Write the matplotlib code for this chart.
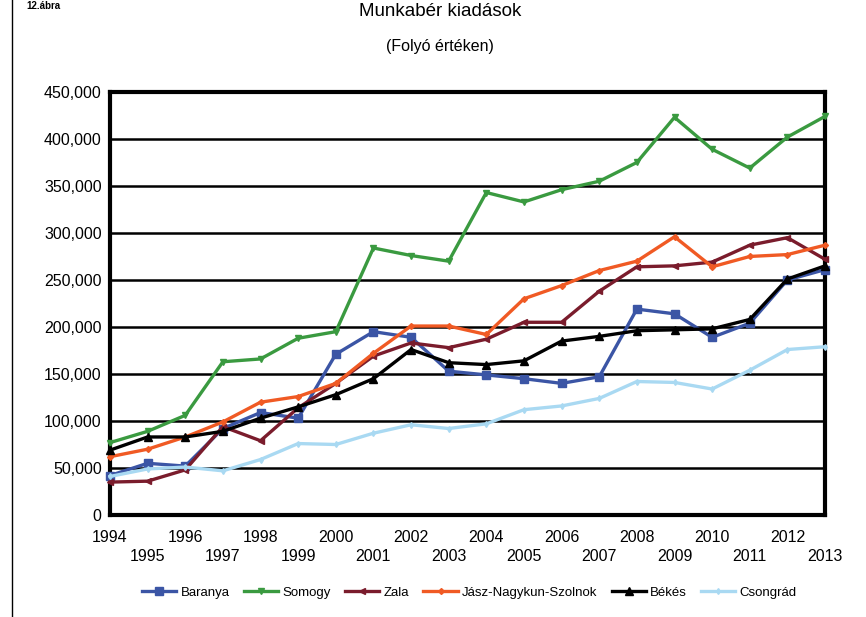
import matplotlib
matplotlib.use("Agg")
import matplotlib.pyplot as plt
from matplotlib.lines import Line2D

plt.rcParams['font.family'] = ['Liberation Sans', 'DejaVu Sans']

years = list(range(1994, 2014))
series_names = ["Baranya", "Somogy", "Zala", "Jász-Nagykun-Szolnok", "Békés", "Csongrád"]

baranya = [42000, 55000, 52000, 92000, 109000, 103000, 171000, 195000, 189000, 153000,
           149000, 145000, 140000, 147000, 219000, 214000, 189000, 204000, 250000, 261000]
somogy = [77000, 89000, 106000, 163000, 166000, 188000, 195000, 284000, 276000, 270000,
          343000, 333000, 346000, 355000, 375000, 423000, 389000, 369000, 402000, 424000]
zala = [35000, 36000, 48000, 94000, 79000, 114000, 140000, 169000, 183000, 178000,
        187000, 205000, 205000, 238000, 264000, 265000, 269000, 287000, 295000, 272000]
jasz = [62000, 70000, 83000, 99000, 120000, 126000, 140000, 172000, 201000, 201000,
        192000, 230000, 244000, 260000, 270000, 296000, 264000, 275000, 277000, 287000]
bekes = [69000, 83000, 83000, 89000, 103000, 115000, 128000, 145000, 176000, 162000,
         160000, 164000, 185000, 190000, 196000, 197000, 198000, 208000, 251000, 265000]
csongrad = [41000, 49000, 51000, 47000, 59000, 76000, 75000, 87000, 96000, 92000,
            97000, 112000, 116000, 124000, 142000, 141000, 134000, 154000, 176000, 179000]

yticks = [0, 50000, 100000, 150000, 200000, 250000, 300000, 350000, 400000, 450000]
ytick_labels = ["0", "50,000", "100,000", "150,000", "200,000", "250,000",
                "300,000", "350,000", "400,000", "450,000"]

fig = plt.figure(figsize=(8.66, 6.17), dpi=100)
ax = fig.add_axes([0.127, 0.1653, 0.8257, 0.6857])

styles = [
    (baranya, "#3b55a5", "s", 6),
    (somogy, "#3a9a40", "v", 4),
    (zala, "#7a1c2c", "<", 4),
    (jasz, "#f05a24", "D", 3),
    (bekes, "#000000", "^", 6),
    (csongrad, "#a9d9f2", "d", 3),
]
for (vals, col, mk, ms), name in zip(styles, series_names):
    ax.plot(years, vals, color=col, lw=2.4, marker=mk, markersize=ms,
            label=name, clip_on=False, zorder=3)

ax.set_xlim(1994, 2013)
ax.set_ylim(0, 450000)
ax.set_yticks(yticks)
ax.set_yticklabels(ytick_labels, fontsize=11.5)
ax.set_xticks(years)
ax.set_xticklabels([str(y) if y % 2 == 0 else "\n" + str(y) for y in years], fontsize=11.5)
for t in ax.get_xticklabels():
    t.set_linespacing(1.3)
ax.tick_params(axis="y", length=0, pad=6)
ax.tick_params(axis="x", length=0, pad=11)
ax.yaxis.grid(True, color="black", lw=1.8)
ax.set_axisbelow(True)
for s in ax.spines.values():
    s.set_linewidth(3)
    s.set_color("black")

fig.text(0.508, 0.981, "Munkabér kiadások", ha="center", va="center", fontsize=13.5)
fig.text(0.508, 0.925, "(Folyó értéken)", ha="center", va="center", fontsize=11.5)
fig.text(0.03, 0.999, "12.ábra", ha="left", va="top", fontsize=7, fontweight="bold")

fig.add_artist(Line2D([0.014, 0.014], [0, 1], transform=fig.transFigure, color="black", lw=1))

leg = fig.legend(loc="center", bbox_to_anchor=(0.542, 0.039), ncol=6, frameon=False,
                 fontsize=9.5, handlelength=2.6, columnspacing=1.1, handletextpad=0.3)

fig.savefig("out.png", dpi=100, facecolor="white")
